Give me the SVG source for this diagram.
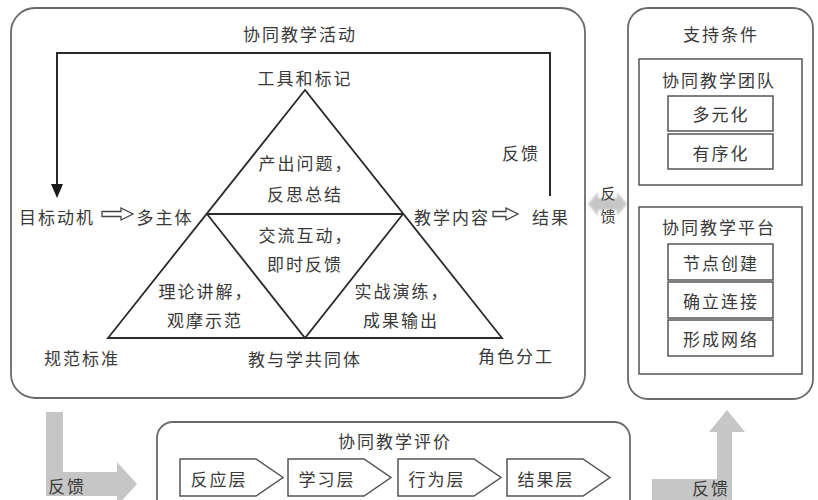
<svg xmlns="http://www.w3.org/2000/svg" width="818" height="500" viewBox="0 0 818 500">
<style>
text{font-family:"Noto Sans CJK SC","Noto Sans",sans-serif;font-size:17px;fill:#3a3a3a;text-anchor:middle;dominant-baseline:central;letter-spacing:2px}
.frame{fill:#fff;stroke:#6a6a6a;stroke-width:1.8}
.box{fill:#fff;stroke:#555;stroke-width:1.5}
.tri{fill:none;stroke:#2a2a2a;stroke-width:1.8;stroke-linejoin:miter}
.line{fill:none;stroke:#2a2a2a;stroke-width:2}
.hollow{fill:#fff;stroke:#444;stroke-width:1.3}
.gray{fill:#c6c6c6}
.vt{font-size:15px;letter-spacing:0}
</style>
<defs>
<filter id="soft" x="-20%" y="-20%" width="140%" height="140%"><feGaussianBlur stdDeviation="1.2"/></filter>
</defs>
<rect width="818" height="500" fill="#fff"/>

<g id="activity">
<rect class="frame" x="11" y="8" width="574" height="390" rx="24"/>
<text x="300" y="33">协同教学活动</text>
</g>

<g id="triangle">
<path class="tri" d="M305,90 L108,338 L502,338 Z"/>
<path class="tri" d="M207,214 L403,214 M207,214 L305,338 L403,214"/>
<text x="305" y="77">工具和标记</text>
<text x="306" y="162">产出问题，</text>
<text x="305" y="193">反思总结</text>
<text x="306" y="234">交流互动，</text>
<text x="305" y="263">即时反馈</text>
<text x="206" y="290">理论讲解，</text>
<text x="205" y="319">观摩示范</text>
<text x="402" y="290">实战演练，</text>
<text x="401" y="319">成果输出</text>
<text x="82" y="357">规范标准</text>
<text x="305" y="358">教与学共同体</text>
<text x="516" y="355">角色分工</text>
</g>

<g id="left-chain">
<text x="57" y="216">目标动机</text>
<text x="165" y="216">多主体</text>
<path class="hollow" d="M102,211.5 H121 V208 L133,214 L121,220 V216.5 H102 Z"/>
</g>

<g id="right-chain">
<text x="452" y="216">教学内容</text>
<text x="551" y="216">结果</text>
<path class="hollow" d="M493,211.5 H506 V208 L518,214 L506,220 V216.5 H493 Z"/>
<text x="521" y="152">反馈</text>
</g>

<g id="connectors">
<path class="line" d="M550,196 V53 H57 V186"/>
<path d="M51,184 L63,184 L57,198 Z" fill="#1a1a1a"/>
<polygon class="gray" filter="url(#soft)" points="588,204 598,192 598,198 617,198 617,192 627,204 617,216 617,210 598,210 598,216"/>
<path class="gray" d="M46,412 H63 V472 H117 V462 L137,484 L117,506 V496 H46 Z"/>
<path class="gray" d="M652,479 H717 V432 H709 L727,410 L745,432 H732 V500 H652 Z"/>
</g>

<g id="feedback-labels">
<text class="vt" x="608" y="192">反</text>
<text class="vt" x="608" y="215">馈</text>
<text x="67" y="485">反馈</text>
<text x="711" y="487">反馈</text>
</g>

<g id="support">
<rect class="frame" x="628" y="8" width="185" height="391" rx="20"/>
<text x="721" y="33">支持条件</text>
</g>

<g id="team">
<rect class="box" x="639" y="59" width="163" height="126"/>
<text x="719" y="79">协同教学团队</text>
<rect class="box" x="668" y="96" width="105" height="35"/>
<text x="721" y="113">多元化</text>
<rect class="box" x="668" y="134" width="105" height="35"/>
<text x="721" y="152">有序化</text>
</g>

<g id="platform">
<rect class="box" x="639" y="207" width="163" height="167"/>
<text x="719" y="226">协同教学平台</text>
<rect class="box" x="668" y="244" width="105" height="36"/>
<text x="721" y="262">节点创建</text>
<rect class="box" x="668" y="282" width="105" height="36"/>
<text x="721" y="300">确立连接</text>
<rect class="box" x="668" y="320" width="105" height="36"/>
<text x="721" y="338">形成网络</text>
</g>

<g id="evaluation">
<rect class="frame" x="157" y="422" width="473" height="110" rx="16"/>
<text x="395" y="440">协同教学评价</text>
<path class="box" d="M180,459 H256 L283,477.5 L256,496 H180 Z"/>
<text x="219" y="478">反应层</text>
<path class="box" d="M288,459 H364 L391,477.5 L364,496 H288 Z"/>
<text x="327" y="478">学习层</text>
<path class="box" d="M398,459 H474 L501,477.5 L474,496 H398 Z"/>
<text x="437" y="478">行为层</text>
<path class="box" d="M507,459 H583 L610,477.5 L583,496 H507 Z"/>
<text x="546" y="478">结果层</text>
</g>
</svg>
